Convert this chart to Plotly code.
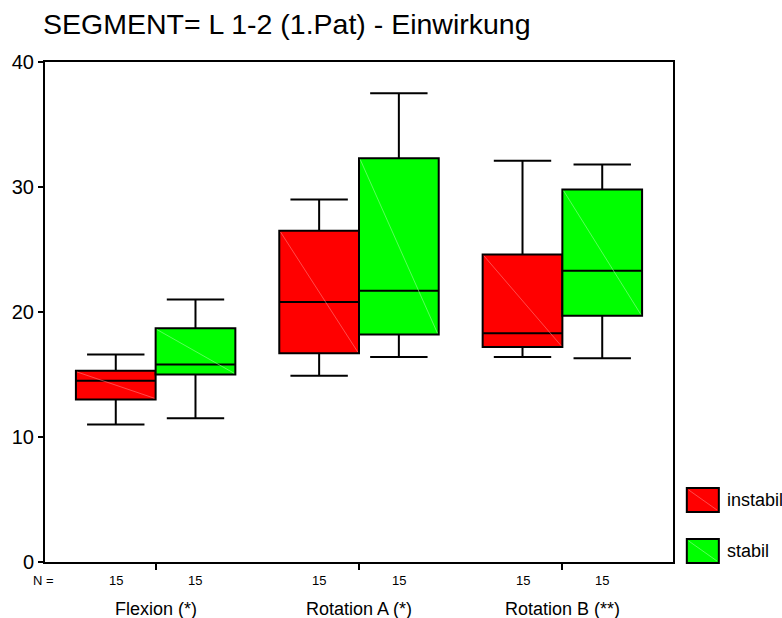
import plotly.graph_objects as go

# Categories, groups and case counts
categories = ["Flexion (*)", "Rotation A (*)", "Rotation B (**)"]
groups = ["instabil", "stabil"]
n_instabil = [15, 15, 15]
n_stabil = [15, 15, 15]

# Five-number summaries per category (whisker ends, quartiles, median)
instabil_lower = [11.0, 14.9, 16.4]
instabil_q1 = [13.0, 16.7, 17.2]
instabil_median = [14.5, 20.8, 18.3]
instabil_q3 = [15.3, 26.5, 24.6]
instabil_upper = [16.6, 29.0, 32.1]

stabil_lower = [11.5, 16.4, 16.3]
stabil_q1 = [15.0, 18.2, 19.7]
stabil_median = [15.8, 21.7, 23.3]
stabil_q3 = [18.7, 32.3, 29.8]
stabil_upper = [21.0, 37.5, 31.8]

y_ticks = [0, 10, 20, 30, 40]

FONT = "Liberation Sans, Arial, sans-serif"
RED = "#FF0000"
GREEN = "#00FF00"
RED_LIGHT = "rgb(255,125,125)"
GREEN_LIGHT = "rgb(150,255,150)"

BOXGAP = 0.216
HALF = (1 - BOXGAP) / 2  # width of one box in category units

xs = list(range(len(categories)))

fig = go.Figure()

series = [
    ("instabil", RED, instabil_lower, instabil_q1, instabil_median, instabil_q3, instabil_upper),
    ("stabil", GREEN, stabil_lower, stabil_q1, stabil_median, stabil_q3, stabil_upper),
]

for name, color, lo, q1, med, q3, hi in series:
    fig.add_trace(go.Box(
        name=name,
        x=xs,
        lowerfence=lo,
        q1=q1,
        median=med,
        q3=q3,
        upperfence=hi,
        offsetgroup=name,
        fillcolor=color,
        line=dict(color="black", width=2),
        whiskerwidth=0.72,
        boxpoints=False,
        hoverinfo="skip",
        showlegend=False,
    ))

# Faint diagonal running through each box, top-left to bottom-right
for gi, (name, color, lo, q1, med, q3, hi) in enumerate(series):
    dx, dy = [], []
    for i in xs:
        left = i - HALF if gi == 0 else i
        right = left + HALF
        dx += [left + 0.006, right - 0.006, None]
        dy += [q3[i] - 0.1, q1[i] + 0.1, None]
    fig.add_trace(go.Scatter(
        x=dx, y=dy, mode="lines",
        line=dict(color=RED_LIGHT if gi == 0 else GREEN_LIGHT, width=0.6),
        hoverinfo="skip", showlegend=False,
    ))

annotations = []

# Case counts under each box
annotations.append(dict(
    text="N =", x=-0.003, y=-0.036, xref="paper", yref="paper",
    xanchor="center", yanchor="middle", showarrow=False,
    font=dict(family=FONT, size=13, color="black"),
))
for gi, counts in enumerate([n_instabil, n_stabil]):
    for i in xs:
        cx = i - HALF / 2 if gi == 0 else i + HALF / 2
        annotations.append(dict(
            text=str(counts[i]), x=cx, y=-0.036, xref="x", yref="paper",
            xanchor="center", yanchor="middle", showarrow=False,
            font=dict(family=FONT, size=13, color="black"),
        ))

# Category labels
for i, cat in enumerate(categories):
    annotations.append(dict(
        text=cat, x=i, y=-0.094, xref="x", yref="paper",
        xanchor="center", yanchor="middle", showarrow=False,
        font=dict(family=FONT, size=18, color="black"),
    ))

# Title
annotations.append(dict(
    text="SEGMENT= L 1-2 (1.Pat) - Einwirkung", x=-0.006, y=1.076,
    xref="paper", yref="paper", xanchor="left", yanchor="middle",
    showarrow=False, font=dict(family=FONT, size=28.5, color="black"),
))

# Hand-drawn legend patches
shapes = []
legend_rows = [(groups[0], RED, RED_LIGHT, 0.148, 0.100, 0.124),
               (groups[1], GREEN, GREEN_LIGHT, 0.046, -0.002, 0.022)]
for label, fill, light, ytop, ybot, ymid in legend_rows:
    shapes.append(dict(
        type="rect", xref="paper", yref="paper",
        x0=1.022, x1=1.073, y0=ybot, y1=ytop,
        fillcolor=fill, line=dict(color="black", width=2),
    ))
    shapes.append(dict(
        type="line", xref="paper", yref="paper",
        x0=1.025, x1=1.070, y0=ytop - 0.004, y1=ybot + 0.004,
        line=dict(color=light, width=0.6),
    ))
    annotations.append(dict(
        text=label, x=1.0825, y=ymid, xref="paper", yref="paper",
        xanchor="left", yanchor="middle", showarrow=False,
        font=dict(family=FONT, size=18, color="black"),
    ))

fig.update_layout(
    width=782, height=618,
    margin=dict(l=43, r=109, t=62, b=56, pad=0),
    paper_bgcolor="white", plot_bgcolor="white",
    boxmode="group", boxgap=BOXGAP, boxgroupgap=0,
    font=dict(family=FONT, color="black"),
    annotations=annotations, shapes=shapes,
    showlegend=False,
)

fig.update_xaxes(
    range=[-0.544, 2.544],
    tickvals=xs, ticktext=["" for _ in xs],
    ticks="outside", ticklen=6, tickwidth=1.5, tickcolor="black",
    showline=True, linecolor="black", linewidth=2, mirror=True,
    showgrid=False, zeroline=False,
)
fig.update_yaxes(
    range=[0, 40],
    tickvals=y_ticks, ticktext=[str(v) for v in y_ticks],
    ticks="outside", ticklen=5, tickwidth=1.5, tickcolor="black",
    tickfont=dict(family=FONT, size=20, color="black"),
    showline=True, linecolor="black", linewidth=2, mirror=True,
    showgrid=False, zeroline=False,
)

fig.write_html("out.html")
